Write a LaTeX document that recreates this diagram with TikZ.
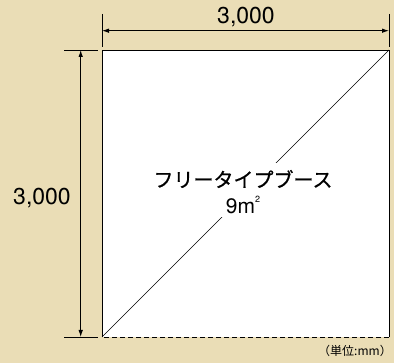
\documentclass[tikz,border=0pt]{standalone}
\usepackage{fontspec}
\setmainfont{TeX Gyre Heros}
\newfontfamily\jpfont{Noto Sans CJK JP}[FakeBold=0.8]
\newfontfamily\jpunit{Noto Sans CJK JP}
\usetikzlibrary{arrows.meta}
\definecolor{bg}{RGB}{234,221,182}
\begin{document}
\begin{tikzpicture}[x=1pt,y=-1pt,
  dimline/.style={line width=0.8pt,{Latex[length=7pt,width=4.5pt]}-{Latex[length=7pt,width=4.5pt]}},
  extline/.style={line width=0.8pt},
  dimtext/.style={font=\fontsize{23}{26}\selectfont,inner sep=0pt}]
\useasboundingbox (0,0) rectangle (394,363);
\fill[bg] (0,0) rectangle (394,363);
\coordinate (A) at (102,50);
\coordinate (B) at (389,50);
\coordinate (C) at (389,337);
\coordinate (D) at (102,337);
\fill[white] (A) rectangle (C);
\draw[line width=0.9pt] (D) -- (A) -- (B) -- (C);
\draw[line width=0.9pt,dashed,dash pattern=on 5pt off 3pt] (C) -- (D);
\draw[line width=0.7pt] (D) -- (B);
\fill[white] (150,163) rectangle (336,217);
\node[inner sep=0pt,font=\jpfont\fontsize{20}{24}\selectfont] (lbl1) at (243,179) {フリータイプブース};
\node[inner sep=0pt,font=\fontsize{21}{24}\selectfont] (lbl2) at (243,205) {9m\raisebox{0.55em}{\fontsize{9}{9}\selectfont 2}};
% top dimension
\coordinate (t1a) at (102,14); \coordinate (t1b) at (102,47);
\coordinate (t2a) at (389,14); \coordinate (t2b) at (389,47);
\draw[extline] (t1a) -- (t1b);
\draw[extline] (t2a) -- (t2b);
\coordinate (ta) at (102,30.7); \coordinate (tb) at (389,30.7);
\draw[dimline] (ta) -- (tb);
\node[dimtext] (tw) at (246,17) {3,000};
% left dimension
\coordinate (l1a) at (64,50); \coordinate (l1b) at (98,50);
\coordinate (l2a) at (64,337); \coordinate (l2b) at (98,337);
\draw[extline] (l1a) -- (l1b);
\draw[extline] (l2a) -- (l2b);
\coordinate (la) at (80.7,50); \coordinate (lb) at (80.7,337);
\draw[dimline] (la) -- (lb);
\node[dimtext] (lh) at (42,198.5) {3,000};
% unit
\node[anchor=east,inner sep=0pt,font=\jpunit\fontsize{12}{14}\selectfont] (unit) at (392,351) {（単位:mm）};
\end{tikzpicture}
\end{document}
